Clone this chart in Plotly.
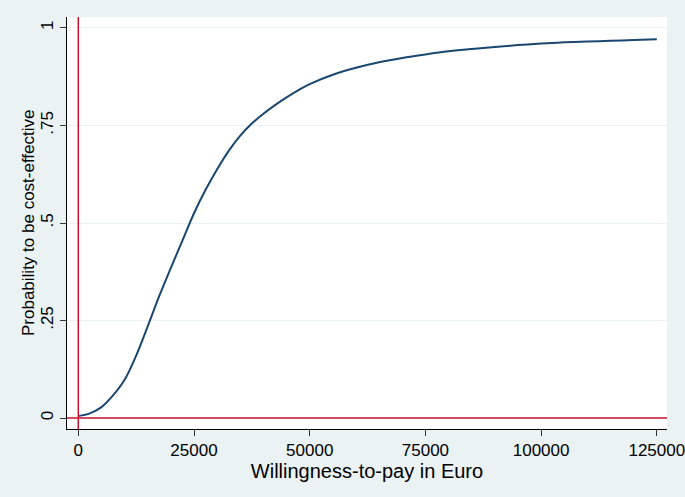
import plotly.graph_objects as go

# willingness-to-pay (Euro) and probability of being cost-effective
wtp = [0, 2500, 5000, 7500, 10000, 12500, 15000, 17500, 20000, 22500, 25000,
       27500, 30000, 32500, 35000, 37500, 40000, 42500, 45000, 47500, 50000,
       55000, 60000, 65000, 70000, 75000, 80000, 85000, 90000, 95000, 100000,
       105000, 110000, 115000, 120000, 125000]
prob = [0.005, 0.012, 0.028, 0.058, 0.098, 0.160, 0.235, 0.313, 0.385, 0.455, 0.525,
        0.585, 0.638, 0.685, 0.724, 0.755, 0.780, 0.802, 0.822, 0.840, 0.856,
        0.880, 0.898, 0.912, 0.923, 0.932, 0.940, 0.946, 0.951, 0.956, 0.960,
        0.963, 0.965, 0.967, 0.969, 0.971]

x_ticks = [0, 25000, 50000, 75000, 100000, 125000]
x_labels = ["0", "25000", "50000", "75000", "100000", "125000"]
y_ticks = [0, 0.25, 0.5, 0.75, 1]
y_labels = ["0", ".25", ".5", ".75", "1"]

bg = "#EAF2F3"
red = "#C8102E"

fig = go.Figure()
fig.add_trace(go.Scatter(x=wtp, y=prob, mode="lines", line_shape="spline",
                         line=dict(color="#1A476F", width=2), showlegend=False))

# reference lines at 0
fig.add_vline(x=0, line=dict(color=red, width=1.5))
fig.add_hline(y=0, line=dict(color=red, width=1.5))

# y title as annotation so it sits closer to the tick labels
fig.add_annotation(text="Probability to be cost-effective", textangle=-90,
                   xref="paper", yref="paper", x=-0.065, y=0.5,
                   xanchor="center", yanchor="middle", showarrow=False,
                   font=dict(size=17, color="black"))

fig.update_layout(
    width=685, height=497,
    paper_bgcolor=bg, plot_bgcolor="white",
    margin=dict(l=67, r=18, t=17, b=68),
    font=dict(family="Liberation Sans, Arial, sans-serif", size=17, color="black"),
    xaxis=dict(range=[-2442, 127200], tickvals=x_ticks, ticktext=x_labels,
               showgrid=False, zeroline=False, automargin=False, ticklabeloverflow="allow",
               showline=True, linecolor="black", linewidth=1,
               ticks="outside", ticklen=6, tickcolor="#333", tickwidth=1,
               title=dict(text="Willingness-to-pay in Euro", standoff=0)),
    yaxis=dict(range=[-0.028, 1.028], tickvals=y_ticks, ticktext=y_labels, tickangle=-90,
               showgrid=True, gridcolor=bg, gridwidth=1, zeroline=False, automargin=False,
               showline=True, linecolor="black", linewidth=1,
               ticks="outside", ticklen=6, tickcolor="#333", tickwidth=1),
)

fig.write_html("out.html", config={"displayModeBar": False},
               post_script="document.body.style.margin='0';")
